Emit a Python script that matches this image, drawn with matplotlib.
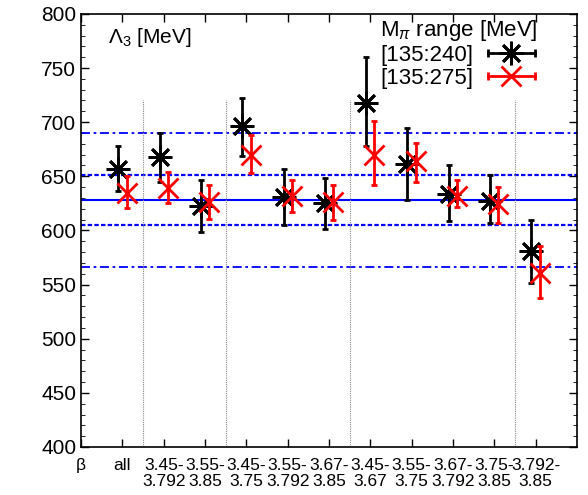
import numpy as np
import matplotlib
matplotlib.use('Agg')
import matplotlib.pyplot as plt
from matplotlib.ticker import MultipleLocator
from matplotlib.lines import Line2D
from matplotlib.legend_handler import HandlerLine2D

plt.rcParams['font.family'] = ['Liberation Sans', 'DejaVu Sans']
plt.rcParams['mathtext.fontset'] = 'custom'
plt.rcParams['mathtext.rm'] = 'Liberation Sans'
plt.rcParams['mathtext.it'] = 'Liberation Sans:italic'

# x 标签
tick_labels = ['β', 'all', '3.45-\n3.792', '3.55-\n3.85', '3.45-\n3.75', '3.55-\n3.792',
               '3.67-\n3.85', '3.45-\n3.67', '3.55-\n3.75', '3.67-\n3.792', '3.75-\n3.85',
               '3.792-\n3.85']

# M_pi range [135:240]
val_240 = [657, 668, 623, 696, 631, 625, 718, 661, 634, 627, 581]
lo_240 = [636, 645, 599, 669, 605, 601, 678, 628, 609, 607, 551]
hi_240 = [678, 690, 647, 722, 657, 648, 760, 695, 660, 651, 610]

# M_pi range [135:275]
val_275 = [635, 639, 626, 670, 632, 626, 670, 664, 632, 624, 561]
lo_275 = [621, 625, 611, 653, 617, 610, 642, 645, 622, 607, 538]
hi_275 = [650, 654, 642, 688, 647, 642, 701, 681, 647, 640, 586]

# 平均值和误差带
band_mid = 628
band_stat = [605, 651]
band_tot = [566, 690]
separators = [1.5, 3.5, 6.5, 10.5]

x = np.arange(1, len(val_240) + 1)

fig = plt.figure(figsize=(5.88, 4.95), dpi=100)
ax = fig.add_axes([0.138, 0.097, 0.843, 0.875])

ax.axhline(band_mid, color='#0000ff', lw=1.5)
for y in band_stat:
    ax.axhline(y, color='#0000ff', lw=1.6, dashes=(2, 1))
for y in band_tot:
    ax.axhline(y, color='#0000ff', lw=1.3, dashes=(5, 2, 1.5, 2))
ax.vlines(separators, 400, 720, colors='#888888', lw=0.8, linestyles=(0, (1, 1)))

y240 = np.array(val_240)
y275 = np.array(val_275)
err240 = [y240 - np.array(lo_240), np.array(hi_240) - y240]
err275 = [y275 - np.array(lo_275), np.array(hi_275) - y275]

ax.errorbar(x - 0.1, y240, yerr=err240, fmt='none', ecolor='black', elinewidth=2,
            capsize=2, capthick=2)
ax.plot(x - 0.1, y240, ls='none', marker=(8, 2, 0), ms=17, mec='black', mew=2)
ax.errorbar(x + 0.1, y275, yerr=err275, fmt='none', ecolor='red', elinewidth=2,
            capsize=2, capthick=2)
ax.plot(x + 0.1, y275, ls='none', marker='x', ms=15, mec='red', mew=2)

# 图例: 横线带端帽 + 标记
bar1 = Line2D([], [], color='black', lw=2, marker='|', ms=6, mew=2)
mk1 = Line2D([], [], ls='none', marker=(8, 2, 0), ms=17, mec='black', mew=2)
bar2 = Line2D([], [], color='red', lw=2, marker='|', ms=6, mew=2)
mk2 = Line2D([], [], ls='none', marker='x', ms=15, mec='red', mew=2)
hmap = {bar1: HandlerLine2D(numpoints=2), bar2: HandlerLine2D(numpoints=2),
        mk1: HandlerLine2D(numpoints=1), mk2: HandlerLine2D(numpoints=1)}
leg = ax.legend([(bar1, mk1), (bar2, mk2)], ['[135:240]', '[135:275]'],
                handler_map=hmap, title=r'M$_\pi$ range [MeV]', loc='upper right',
                bbox_to_anchor=(0.955, 1.022), frameon=False, markerfirst=False,
                fontsize=16, title_fontsize=16, handlelength=2.7, labelspacing=0.1,
                handletextpad=0.35, borderaxespad=0.2, alignment='left')

ax.text(0.055, 0.972, r'$\Lambda_3$ [MeV]', transform=ax.transAxes, fontsize=15,
        va='top', ha='left')

ax.set_xlim(0, 12)
ax.set_ylim(400, 800)
ax.set_xticks(np.arange(0, 12))
ax.set_xticklabels(tick_labels, fontsize=12.5, linespacing=1.05)
ax.yaxis.set_major_locator(MultipleLocator(50))
ax.yaxis.set_minor_locator(MultipleLocator(10))
ax.tick_params(axis='y', labelsize=15)
ax.tick_params(direction='in', top=True, right=True, length=6, width=1)
ax.tick_params(which='minor', direction='in', right=True, length=3)
ax.tick_params(axis='x', pad=8)
for s in ax.spines.values():
    s.set_linewidth(1.2)

plt.savefig('out.png', dpi=100)
